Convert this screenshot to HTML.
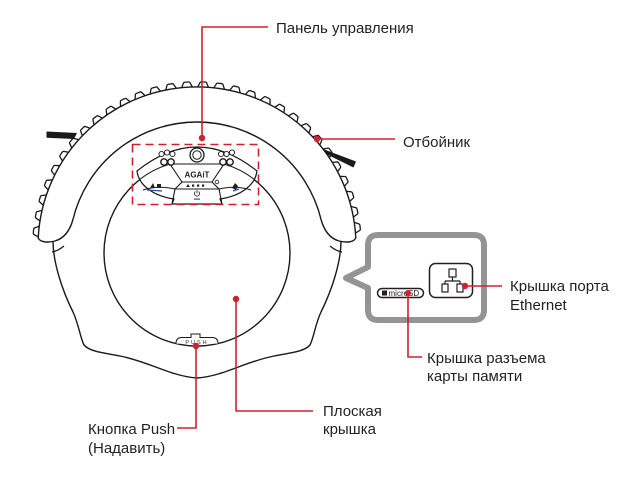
<!DOCTYPE html>
<html>
<head>
<meta charset="utf-8">
<style>
  html, body { margin: 0; padding: 0; background: #ffffff; }
  svg { display: block; }
  .t { font-family: "Liberation Sans", "DejaVu Sans", sans-serif; font-size: 15px; fill: #231f20; }
</style>
</head>
<body>
<svg width="627" height="483" viewBox="0 0 627 483" xmlns="http://www.w3.org/2000/svg">
  <defs>
    <path id="bump" d="M-5.5,0.3 L-3.2,-4.6 Q-2.8,-5.2 -2,-5.2 L2,-5.2 Q2.8,-5.2 3.2,-4.6 L5.5,0.3" fill="none" stroke="#1a1a1a" stroke-width="1.3" stroke-linejoin="round"/>
  </defs>

  <!-- brushes -->
  <polygon points="46.5,131.5 77,133 74,139 46.5,137.8" fill="#1a1a1a"/>
  <polygon points="323,149 356,161.5 353.5,167.5 325,153.5" fill="#1a1a1a"/>

  <!-- body lower outline -->
  <path d="M53,241 C53,262 62,290 73,312 C79,325 80,337 84,345 C90,352 105,353 120,356 C150,362 170,376 197,378 C224,376 244,362 274,356 C289,353 304,352 310,345 C314,337 315,325 321,312 C332,290 341,262 341,241" fill="none" stroke="#1a1a1a" stroke-width="1.4"/>
  <path d="M52,252 Q58,251 64,246" fill="none" stroke="#1a1a1a" stroke-width="1.2"/>
  <path d="M342,252 Q336,251 330,246" fill="none" stroke="#1a1a1a" stroke-width="1.2"/>

  <!-- bumper -->
  <path d="M38.2,238 A159,159 0 0 1 355.8,238 C354,242 347,243 339,241 C329,238 324,230 321.2,220 A127.7,127.7 0 0 0 72.8,220 C70,230 65,238 55,241 C47,243 40,242 38.2,238 Z" fill="#ffffff" stroke="#1a1a1a" stroke-width="1.4"/>

  <!-- bumps -->
  <g>
    <use href="#bump" transform="rotate(-84.8 197 246) translate(197 87)"/>
    <use href="#bump" transform="rotate(-79 197 246) translate(197 87)"/>
    <use href="#bump" transform="rotate(-73.2 197 246) translate(197 87)"/>
    <use href="#bump" transform="rotate(-67.4 197 246) translate(197 87)"/>
    <use href="#bump" transform="rotate(-61.6 197 246) translate(197 87)"/>
    <use href="#bump" transform="rotate(-55.8 197 246) translate(197 87)"/>
    <use href="#bump" transform="rotate(-50 197 246) translate(197 87)"/>
    <use href="#bump" transform="rotate(-44.2 197 246) translate(197 87)"/>
    <use href="#bump" transform="rotate(-38.4 197 246) translate(197 87)"/>
    <use href="#bump" transform="rotate(-32.6 197 246) translate(197 87)"/>
    <use href="#bump" transform="rotate(-26.8 197 246) translate(197 87)"/>
    <use href="#bump" transform="rotate(-21 197 246) translate(197 87)"/>
    <use href="#bump" transform="rotate(-15.2 197 246) translate(197 87)"/>
    <use href="#bump" transform="rotate(-9.4 197 246) translate(197 87)"/>
    <use href="#bump" transform="rotate(-3.6 197 246) translate(197 87)"/>
    <use href="#bump" transform="rotate(2.2 197 246) translate(197 87)"/>
    <use href="#bump" transform="rotate(8 197 246) translate(197 87)"/>
    <use href="#bump" transform="rotate(13.8 197 246) translate(197 87)"/>
    <use href="#bump" transform="rotate(19.6 197 246) translate(197 87)"/>
    <use href="#bump" transform="rotate(25.4 197 246) translate(197 87)"/>
    <use href="#bump" transform="rotate(31.2 197 246) translate(197 87)"/>
    <use href="#bump" transform="rotate(37 197 246) translate(197 87)"/>
    <use href="#bump" transform="rotate(42.8 197 246) translate(197 87)"/>
    <use href="#bump" transform="rotate(48.6 197 246) translate(197 87)"/>
    <use href="#bump" transform="rotate(54.4 197 246) translate(197 87)"/>
    <use href="#bump" transform="rotate(60.2 197 246) translate(197 87)"/>
    <use href="#bump" transform="rotate(66 197 246) translate(197 87)"/>
    <use href="#bump" transform="rotate(71.8 197 246) translate(197 87)"/>
    <use href="#bump" transform="rotate(77.6 197 246) translate(197 87)"/>
    <use href="#bump" transform="rotate(83.4 197 246) translate(197 87)"/>
  </g>

  <!-- flat cover circle -->
  <circle cx="197" cy="253" r="93" fill="#ffffff" stroke="#1a1a1a" stroke-width="1.4"/>

  <!-- PUSH button -->
  <path d="M176,343.6 Q176,338 181,337.5 L191,337.5 L191,334 L200,334 L200,337.5 L213,337.5 Q218,338 218,343.6" fill="#ffffff" stroke="#1a1a1a" stroke-width="1"/>
  <text x="197" y="344" text-anchor="middle" font-family="Liberation Sans, sans-serif" font-size="5.5" letter-spacing="2" fill="#333">PUSH</text>

  <!-- control panel -->
  <path d="M137,171 Q197,123 257,171 C255,186 240,196 220,199 L222,204 L172,204 L174,199 C154,196 139,186 137,171 Z" fill="#ffffff" stroke="#1a1a1a" stroke-width="1.2"/>
  <path d="M139.5,179.5 A93,93 0 0 1 170,164" fill="none" stroke="#1a1a1a" stroke-width="1.1"/>
  <path d="M224,164 A93,93 0 0 1 254.5,179.5" fill="none" stroke="#1a1a1a" stroke-width="1.1"/>
  <path d="M170,164 L224,164 L212,182 L182,182 Z" fill="none" stroke="#1a1a1a" stroke-width="1.1"/>
  <path d="M182,182 L175,189 L219,189 L212,182" fill="none" stroke="#1a1a1a" stroke-width="1.1"/>
  <path d="M175,189 L172,204 M219,189 L222,204" fill="none" stroke="#1a1a1a" stroke-width="1.1"/>
  <path d="M143,190 Q158,185 175,189 M251,190 Q236,185 219,189" fill="none" stroke="#1a1a1a" stroke-width="1"/>
  <!-- center ring -->
  <circle cx="197" cy="155" r="7" fill="#fff" stroke="#1a1a1a" stroke-width="1.3"/>
  <circle cx="197" cy="155" r="4.2" fill="#fff" stroke="#1a1a1a" stroke-width="1"/>
  <!-- left cluster -->
  <g fill="#fff" stroke="#1a1a1a" stroke-width="0.9">
    <circle cx="161.5" cy="154" r="2.6"/>
    <circle cx="167" cy="152.5" r="2.6"/>
    <circle cx="172.5" cy="154" r="2.6"/>
    <circle cx="226.5" cy="154" r="2.6"/>
    <circle cx="232" cy="152.5" r="2.6"/>
    <circle cx="221" cy="154" r="2.6"/>
  </g>
  <g fill="#fff" stroke="#1a1a1a" stroke-width="1.4">
    <circle cx="164" cy="162" r="3.2"/>
    <circle cx="171" cy="162" r="3.2"/>
    <circle cx="223" cy="162" r="3.2"/>
    <circle cx="230" cy="162" r="3.2"/>
  </g>
  <text x="197" y="177.5" text-anchor="middle" font-family="Liberation Sans, sans-serif" font-size="8" font-weight="bold" fill="#222">AGAiT</text>
  <g fill="#222">
    <polygon points="186,187 188,184 190,187"/>
    <rect x="192" y="184.5" width="2.2" height="2.2"/>
    <rect x="197" y="184.5" width="2.2" height="2.2"/>
    <rect x="202" y="184.5" width="2.2" height="2.2"/>
  </g>
  <circle cx="217" cy="182" r="1.8" fill="none" stroke="#222" stroke-width="0.8"/>
  <!-- power icon -->
  <path d="M195.3,191.5 A2.6,2.6 0 1 0 198.7,191.5" fill="none" stroke="#222" stroke-width="0.8"/>
  <line x1="197" y1="190" x2="197" y2="193.5" stroke="#222" stroke-width="0.8"/>
  <rect x="194" y="198.5" width="6" height="1.2" fill="#2a4fa0"/>
  <!-- left icon -->
  <polygon points="150,188 153,183 155,188" fill="#222"/>
  <rect x="157" y="184" width="4" height="4" fill="#222"/>
  <line x1="147" y1="190" x2="162" y2="191" stroke="#2a4fa0" stroke-width="1.2"/>
  <!-- right icon -->
  <polygon points="232,188 235,183 238,186 236,190" fill="#222"/>
  <line x1="233" y1="191" x2="239" y2="189" stroke="#2a4fa0" stroke-width="1.2"/>

  <!-- dashed selection -->
  <rect x="132.5" y="144.5" width="126" height="60" fill="none" stroke="#d0202e" stroke-width="1.6" stroke-dasharray="8 5"/>

  <!-- callout box -->
  <path d="M368,267 L368,245 Q368,235 378,235 L474,235 Q484,235 484,245 L484,310 Q484,320 474,320 L378,320 Q368,320 368,310 L368,288 L346,278 Z" fill="#ffffff" stroke="#949494" stroke-width="6" stroke-linejoin="round"/>
  <!-- ethernet -->
  <rect x="429.5" y="263.5" width="43" height="34" rx="6" fill="#fff" stroke="#231f20" stroke-width="1.5"/>
  <g fill="none" stroke="#231f20" stroke-width="1.2">
    <rect x="449" y="269" width="7" height="8"/>
    <path d="M452.5,277 L452.5,281 M445,281 L460,281 M445,281 L445,284 M460,281 L460,284"/>
    <rect x="442" y="284" width="6" height="8"/>
    <rect x="457" y="284" width="6" height="8"/>
  </g>
  <!-- microSD -->
  <rect x="377.5" y="288.5" width="46" height="9" rx="4.5" fill="#fff" stroke="#231f20" stroke-width="1.5"/>
  <rect x="382" y="290.5" width="5" height="5" fill="#231f20"/>
  <text x="388.5" y="296" font-family="Liberation Sans, sans-serif" font-size="8" fill="#231f20">microSD</text>

  <!-- red leaders -->
  <g fill="none" stroke="#d0202e" stroke-width="1.6">
    <path d="M202,138 L202,27 L268,27"/>
    <path d="M317,139 L395,139"/>
    <path d="M236,299 L236,411 L313,411"/>
    <path d="M196,346 L196,428 L177,428"/>
    <path d="M408,293 L408,357 L422,357"/>
    <path d="M465,286 L502,286"/>
  </g>
  <g fill="#d0202e">
    <circle cx="202" cy="138" r="3.2"/>
    <circle cx="317" cy="139" r="3.2"/>
    <circle cx="236" cy="299" r="3.2"/>
    <circle cx="196" cy="346" r="3.2"/>
    <circle cx="408" cy="293" r="3"/>
    <circle cx="465" cy="286" r="3.2"/>
  </g>

  <!-- labels -->
  <text class="t" x="276" y="33">Панель управления</text>
  <text class="t" x="403" y="147">Отбойник</text>
  <text class="t" x="510" y="291">Крышка порта</text>
  <text class="t" x="510" y="310">Ethernet</text>
  <text class="t" x="427" y="363">Крышка разъема</text>
  <text class="t" x="427" y="381">карты памяти</text>
  <text class="t" x="88" y="434">Кнопка Push</text>
  <text class="t" x="88" y="453">(Надавить)</text>
  <text class="t" x="323" y="416">Плоская</text>
  <text class="t" x="323" y="434">крышка</text>
</svg>
</body>
</html>
